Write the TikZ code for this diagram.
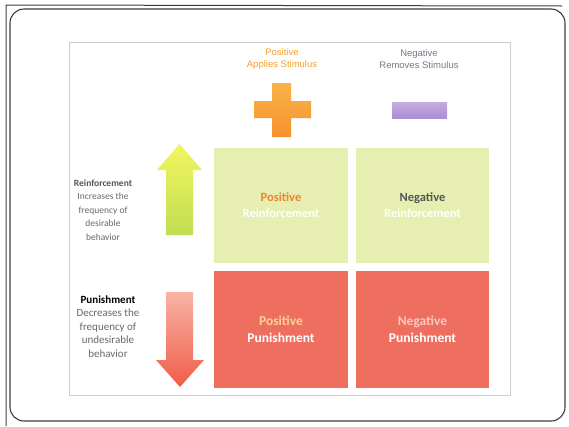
\documentclass[tikz,border=0pt]{standalone}
\usepackage{fontspec}
\setmainfont{Carlito}
\newfontfamily\hdrfont{Liberation Sans}
\definecolor{cellY}{RGB}{231,238,178}
\definecolor{cellR}{RGB}{238,110,96}
\definecolor{orangeT}{RGB}{240,132,38}
\definecolor{orangeH}{RGB}{242,160,50}
\definecolor{grayH}{RGB}{120,120,135}
\definecolor{darkT}{RGB}{85,85,85}
\definecolor{sideT}{RGB}{105,105,105}
\definecolor{frameC}{RGB}{60,60,60}
\definecolor{boxC}{RGB}{205,205,205}
\definecolor{posP}{RGB}{250,212,150}
\definecolor{negP}{RGB}{250,200,192}
\tikzset{
  cell/.style={draw=none, inner sep=0pt, align=center, font=\bfseries\fontsize{12.5}{16}\selectfont},
  hdr/.style={align=center, inner sep=0pt, font=\hdrfont\fontsize{9.5}{12.5}\selectfont},
  side/.style={align=center, inner sep=0pt, text=sideT}
}
\begin{document}
\begin{tikzpicture}[x=1pt,y=-1pt]
\useasboundingbox (0,0) rectangle (569,426);
\fill[white] (0,0) rectangle (569,426);
% photocopy edges
\draw[frameC, line width=1pt] (6,426) -- (6,5) -- (562,6);
% outer rounded frame
\draw[frameC, line width=1.1pt, rounded corners=14pt] (10,9) rectangle (565,421);
% inner light box
\draw[boxC, line width=0.6pt] (69,42) rectangle (510,395);
% header texts
\node[hdr, text=orangeH] (posh) at (282,59) {Positive\\Applies Stimulus};
\node[hdr, text=grayH] (negh) at (419,59) {Negative\\Removes Stimulus};
% plus sign
\shade[top color={rgb,255:red,250;green,178;blue,72}, bottom color={rgb,255:red,246;green,146;blue,46}]
  (272,83) -- (291,83) -- (291,101) -- (311,101) -- (311,118) -- (291,118) -- (291,137)
  -- (272,137) -- (272,118) -- (254,118) -- (254,101) -- (272,101) -- cycle;
% minus sign
\shade[top color={rgb,255:red,196;green,172;blue,224}, bottom color={rgb,255:red,172;green,142;blue,212}]
  (392,102) rectangle (447,118);
% cells
\node[cell, fill=cellY, minimum width=134pt, minimum height=115pt] (pr) at (281,205.5)
  {\textcolor{orangeT}{Positive}\\\textcolor{white}{Reinforcement}};
\node[cell, fill=cellY, minimum width=133pt, minimum height=115pt] (nr) at (422.5,205.5)
  {\textcolor{darkT}{Negative}\\\textcolor{white}{Reinforcement}};
\node[cell, fill=cellR, minimum width=134pt, minimum height=117pt, font=\bfseries\fontsize{13.5}{17}\selectfont] (pp) at (281,329.5)
  {\textcolor{posP}{Positive}\\\textcolor{white}{Punishment}};
\node[cell, fill=cellR, minimum width=133pt, minimum height=117pt, font=\bfseries\fontsize{13.5}{17}\selectfont] (np) at (422.5,329.5)
  {\textcolor{negP}{Negative}\\\textcolor{white}{Punishment}};
% up arrow
\shade[top color={rgb,255:red,242;green,245;blue,95}, bottom color={rgb,255:red,192;green,222;blue,82}]
  (179.5,144) -- (202,170) -- (193,170) -- (193,235) -- (166,235) -- (166,170) -- (157,170) -- cycle;
% down arrow
\shade[top color={rgb,255:red,249;green,180;blue,165}, bottom color={rgb,255:red,240;green,92;blue,72}]
  (166,292) -- (193,292) -- (193,360) -- (204,360) -- (180,387) -- (156,360) -- (166,360) -- cycle;
% side texts
\node[side, font=\fontsize{9.5}{13.5}\selectfont] (reinf) at (103,210)
  {\textcolor{darkT}{\bfseries Reinforcement}\\Increases the\\frequency of\\desirable\\behavior};
\node[side, font=\fontsize{11}{13.5}\selectfont] (puni) at (108,326.5)
  {\textcolor{black}{\bfseries Punishment}\\Decreases the\\frequency of\\undesirable\\behavior};
\end{tikzpicture}
\end{document}
